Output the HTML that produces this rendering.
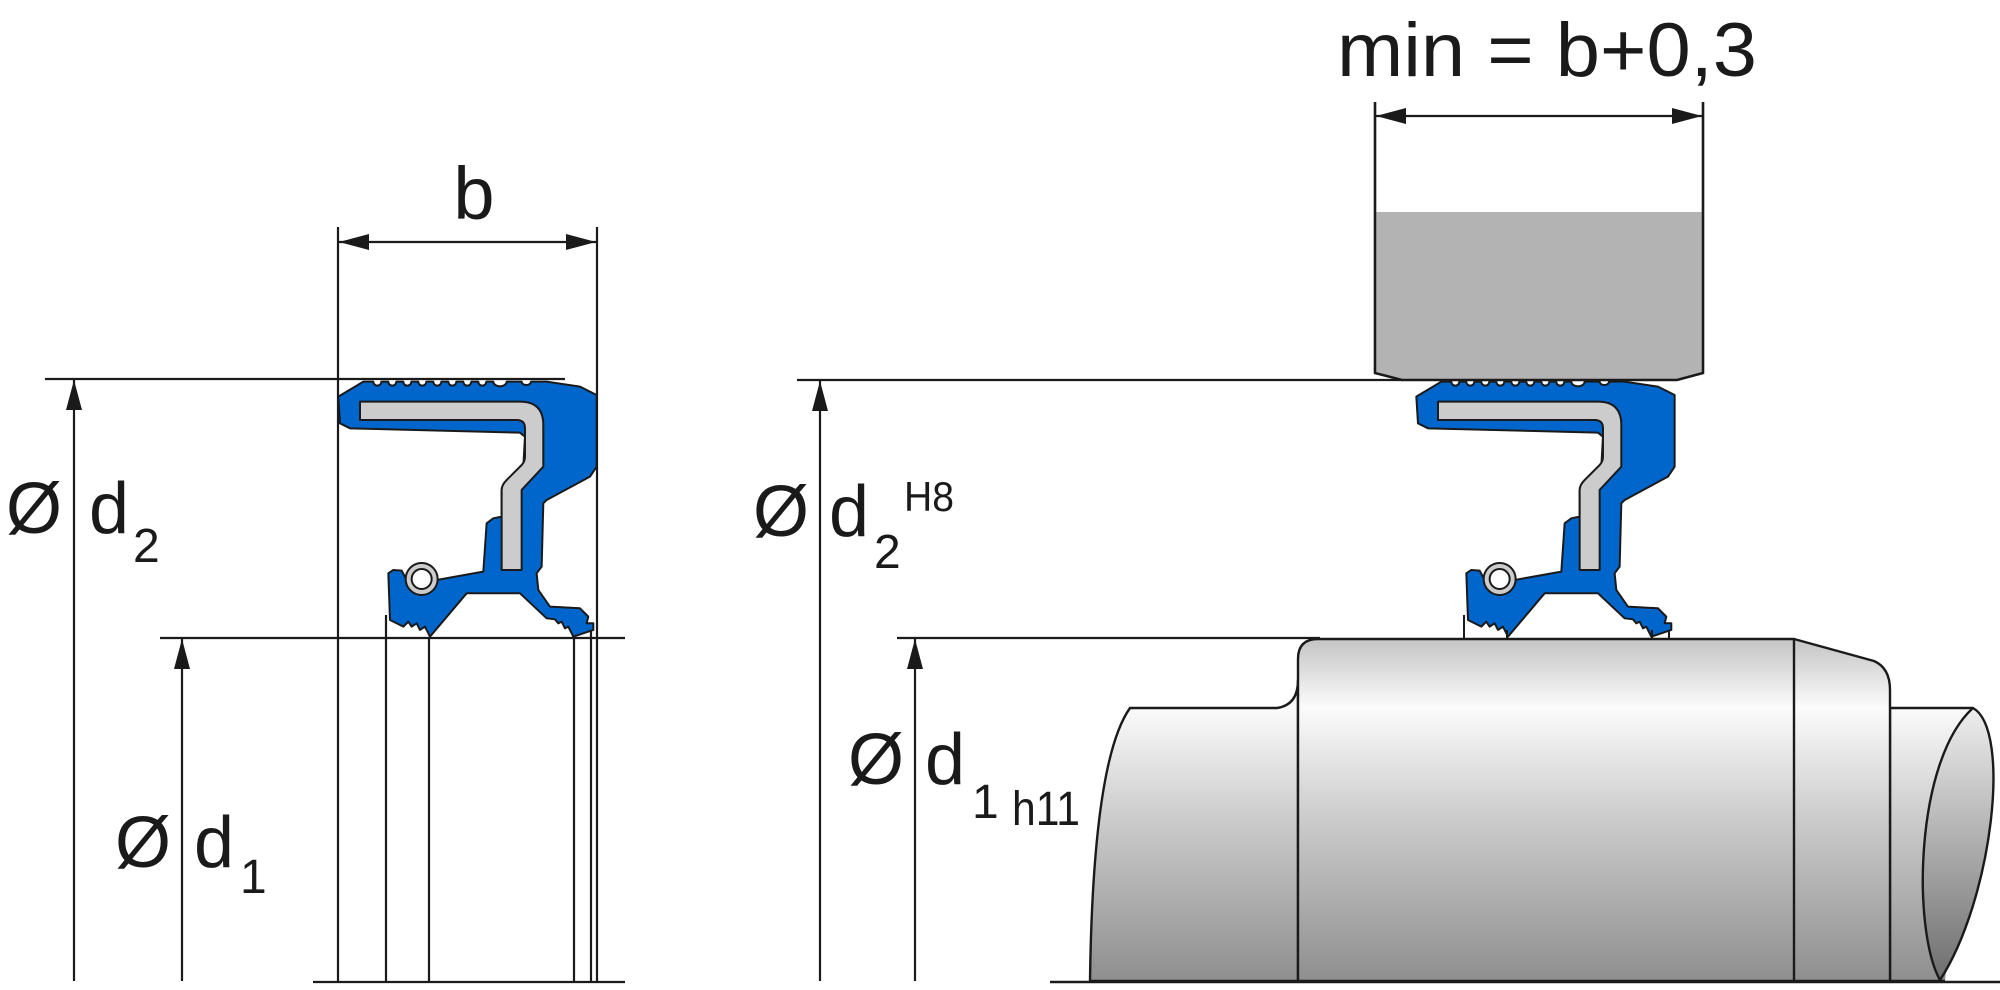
<!DOCTYPE html>
<html><head><meta charset="utf-8"><style>
html,body{margin:0;padding:0;background:#fff;}
svg{display:block;}
text{font-family:"Liberation Sans",sans-serif;fill:#1a1a1a;}
</style></head><body>
<svg width="2000" height="990" viewBox="0 0 2000 990" xmlns="http://www.w3.org/2000/svg">
<defs>
<linearGradient id="sg" gradientUnits="userSpaceOnUse" x1="0" y1="639" x2="0" y2="982">
<stop offset="0" stop-color="#c4c4c4"/>
<stop offset="0.2" stop-color="#fbfbfb"/>
<stop offset="0.5" stop-color="#cfcfcf"/>
<stop offset="1" stop-color="#8e8e8e"/>
</linearGradient>
<linearGradient id="eg" x1="0" y1="0" x2="0" y2="1">
<stop offset="0" stop-color="#eeeeee"/>
<stop offset="1" stop-color="#6e6e6e"/>
</linearGradient>
<g id="seal" stroke="#1a1a1a" stroke-width="6" stroke-linejoin="round">
<path fill="#0066cc" d="M55,110 L130,65 L160,65 A12,12 0 0 0 184,65 L205,65 A12,12 0 0 0 229,65 L250,65 A12,12 0 0 0 274,65 L295,65 A12,12 0 0 0 319,65 L340,65 A12,12 0 0 0 364,65 L385,65 A12,12 0 0 0 409,65 L430,65 A12,12 0 0 0 454,65 L475,65 A12,12 0 0 0 499,65 L520,65 A20,14 0 0 0 560,65 L605,65 A14,10 0 0 0 633,65 L680,65 L780,80 L830,105 L830,320 L810,350 L680,420 L670,430 L665,620 L650,640 L655,690 L690,740 L780,745 L805,770 L800,790 L820,790 L820,810 L760,830 L745,800 L735,805 L725,785 L715,790 L705,778 L680,775 L600,700 L440,700 L330,830 L315,800 L300,810 L290,790 L275,800 L265,785 L250,800 L210,780 L205,640 L220,630 L245,632 L260,660 L350,660 L490,635 L500,490 L520,475 L545,470 L545,390 L610,320 L615,230 L600,218 L90,205 L60,190 Z"/>
<path fill="#cccccc" d="M120,125 L600,125 Q670,125 670,195 L670,320 L605,390 L605,630 L545,630 L545,390 Q545,375 560,360 L605,315 Q615,305 615,290 L615,205 Q615,180 590,180 L120,180 Z"/>
<circle cx="305" cy="657" r="48" fill="#cccccc"/>
<circle cx="305" cy="657" r="30" fill="#fff"/>
</g>
<marker id="a" viewBox="0 0 30 16" refX="30" refY="8" markerWidth="30" markerHeight="16" markerUnits="userSpaceOnUse" orient="auto-start-reverse"><path d="M30,8 L0,0 L0,16 Z" fill="#1a1a1a"/></marker>
</defs>

<g stroke="#1a1a1a" stroke-width="2.2" fill="none">
<line x1="338" y1="227" x2="338" y2="982"/>
<line x1="597" y1="227" x2="597" y2="982"/>
<line x1="339" y1="242" x2="596" y2="242" marker-start="url(#a)" marker-end="url(#a)"/>
<line x1="45" y1="379" x2="565" y2="379"/>
<line x1="74" y1="981" x2="74" y2="380" marker-end="url(#a)"/>
<line x1="160" y1="638" x2="625" y2="638"/>
<line x1="182" y1="981" x2="182" y2="639" marker-end="url(#a)"/>
<line x1="386" y1="615" x2="386" y2="982"/>
<line x1="429" y1="638" x2="429" y2="982"/>
<line x1="574" y1="630" x2="574" y2="982"/>
<line x1="591" y1="630" x2="591" y2="982"/>
<line x1="313" y1="982" x2="625" y2="982"/>
<line x1="1375" y1="102" x2="1375" y2="373"/>
<line x1="1703" y1="102" x2="1703" y2="373"/>
<line x1="1376" y1="116" x2="1702" y2="116" marker-start="url(#a)" marker-end="url(#a)"/>
<line x1="797" y1="380" x2="1403" y2="380"/>
<line x1="820" y1="981" x2="820" y2="381" marker-end="url(#a)"/>
<line x1="897" y1="638" x2="1320" y2="638"/>
<line x1="915" y1="981" x2="915" y2="639" marker-end="url(#a)"/>
</g>

<path d="M1375,212 L1703,212 L1703,373 L1677,380 L1402,380 L1375,373 Z" fill="#b3b3b3" stroke="none"/>
<path d="M1375,102 L1375,373 L1402,380 L1677,380 L1703,373 L1703,102" fill="none" stroke="#1a1a1a" stroke-width="2.5"/>

<use href="#seal" transform="translate(320,360) scale(0.3333)"/>
<use href="#seal" transform="translate(1398,360) scale(0.3333)"/>
<g stroke="#1a1a1a" stroke-width="2" fill="none">
<line x1="1464" y1="615" x2="1464" y2="640"/>
<line x1="1507" y1="630" x2="1507" y2="640"/>
<line x1="1652" y1="630" x2="1652" y2="640"/>
<line x1="1669" y1="630" x2="1669" y2="640"/>
</g>

<g stroke="#1a1a1a" stroke-width="2.4" stroke-linejoin="round">
<path d="M1130,708 L1277,708 Q1298,705 1298,680 L1298,981 L1090,981 Q1093,760 1130,708 Z" fill="url(#sg)"/>
<path d="M1973,708 L1890,708 L1890,981 L1945,981" fill="url(#sg)"/>
<path d="M1973,708 C2012,730 1992,900 1940,980 C1912,930 1915,760 1973,708 Z" fill="url(#eg)"/>
<path d="M1318,639 L1794,639 L1874,661 Q1890,668 1890,690 L1890,981 L1298,981 L1298,659 Q1298,639 1318,639 Z" fill="url(#sg)"/>
<line x1="1794" y1="639" x2="1794" y2="981"/>
<line x1="1050" y1="982" x2="2000" y2="982"/>
</g>

<text x="474" y="219" font-size="74" text-anchor="middle">b</text>
<text x="1547" y="76" font-size="76" text-anchor="middle" textLength="420" lengthAdjust="spacingAndGlyphs">min = b+0,3</text>
<text x="6" y="533" font-size="72">Ø</text>
<text x="89" y="533" font-size="72">d</text>
<text x="133" y="562" font-size="48">2</text>
<text x="115" y="867" font-size="72">Ø</text>
<text x="194" y="867" font-size="72">d</text>
<text x="240" y="893" font-size="48">1</text>
<text x="753" y="536" font-size="72">Ø</text>
<text x="829" y="536" font-size="72">d</text>
<text x="874" y="568" font-size="48">2</text>
<text x="904" y="511" font-size="42" textLength="50" lengthAdjust="spacingAndGlyphs">H8</text>
<text x="848" y="784" font-size="72">Ø</text>
<text x="925" y="784" font-size="72">d</text>
<text x="972" y="818" font-size="48">1</text>
<text x="1012" y="825" font-size="48" textLength="68" lengthAdjust="spacingAndGlyphs">h11</text>
</svg>
</body></html>
